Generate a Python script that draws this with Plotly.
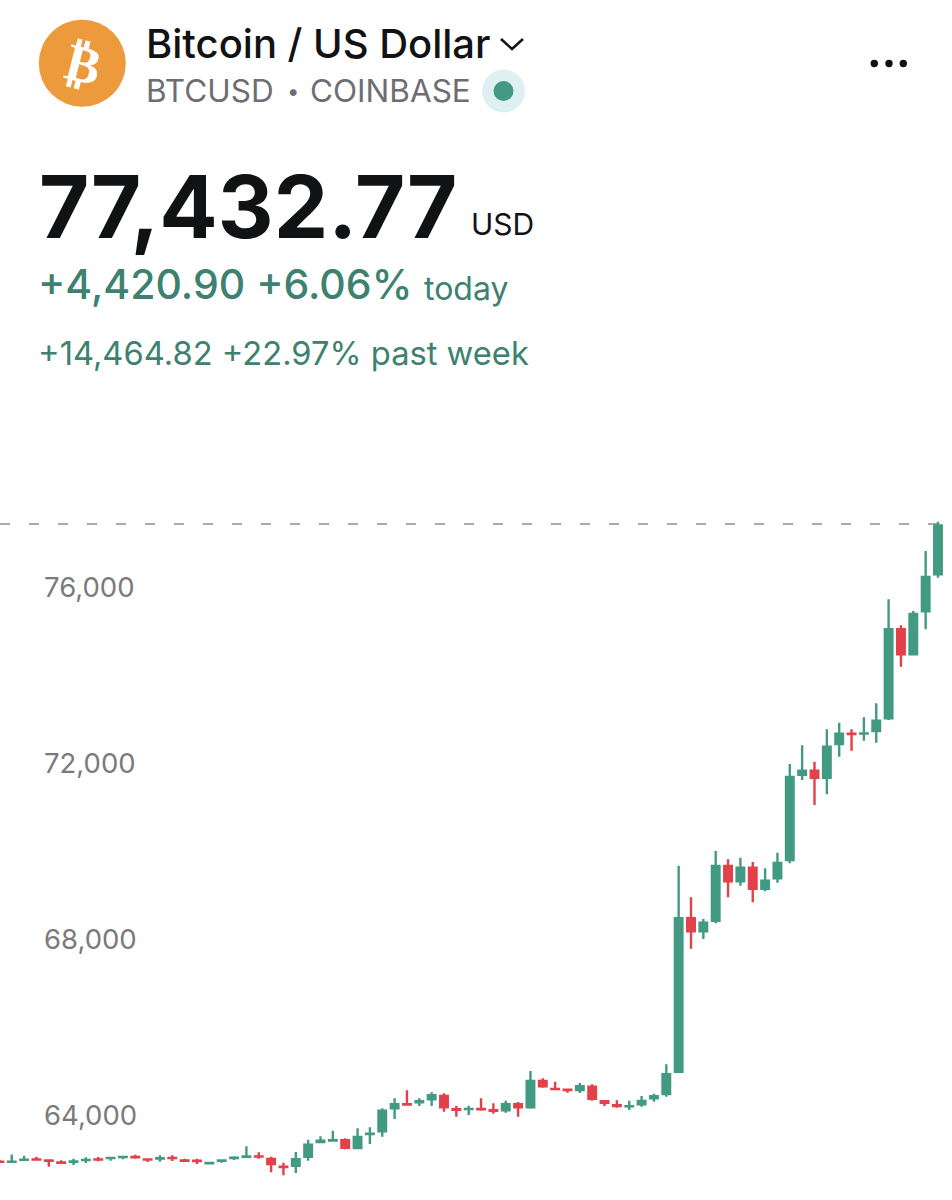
import plotly.graph_objects as go

# Values
opens = [62941, 62935, 62980, 62992, 62966, 62920, 62936, 62974, 62992, 63019, 63042,
         63045, 62992, 63011, 63026, 62966, 62959, 62902, 62959, 63023, 63050, 63060,
         63000, 62825, 62848, 63052, 63386, 63420, 63425, 63250, 63568, 63630, 64152,
         64245, 64289, 64357, 64432, 64130, 64134, 64136, 64107, 64107, 64243, 64175,
         64773, 64594, 64575, 64568, 64643, 64311, 64220, 64195, 64243, 64380, 64477,
         64984, 68470, 68175, 68416, 69659, 69311, 69620, 69143, 69380, 69795, 71734,
         71825, 71666, 72432, 72666, 72667, 72727, 73016, 75039, 74470, 75448, 76289]
highs = [62977, 63102, 63075, 63052, 62993, 62970, 63007, 63039, 63045, 63045, 63075,
         63098, 63007, 63084, 63084, 63007, 63007, 62920, 62977, 63061, 63289, 63152,
         63052, 62916, 63159, 63439, 63516, 63643, 63470, 63698, 63720, 64152, 64380,
         64561, 64380, 64516, 64493, 64205, 64211, 64380, 64266, 64325, 64295, 65000,
         64834, 64757, 64598, 64727, 64698, 64341, 64334, 64325, 64432, 64484, 65152,
         69666, 68948, 68455, 70000, 69811, 69848, 69750, 69607, 69961, 71977, 72402,
         72030, 72766, 72916, 72766, 73039, 73357, 75720, 75130, 75455, 76818, 77484]
lows = [62909, 62925, 62961, 62961, 62825, 62893, 62864, 62909, 62948, 62961, 62993,
        63007, 62932, 62939, 62955, 62932, 62886, 62886, 62916, 62977, 63030, 63007,
        62698, 62630, 62682, 62961, 63357, 63393, 63220, 63220, 63341, 63507, 63909,
        64211, 64205, 64205, 64075, 63961, 64000, 64098, 64030, 64052, 63961, 64143,
        64620, 64568, 64507, 64500, 64325, 64205, 64166, 64114, 64189, 64302, 64416,
        64961, 67780, 68000, 68357, 68948, 69211, 68834, 69084, 69280, 69720, 71614,
        71045, 71289, 72143, 72280, 72507, 72461, 72977, 74189, 74470, 75039, 76211]
closes = [62934, 62940, 62986, 62985, 62959, 62913, 62943, 62981, 62985, 63026, 63049,
          63038, 62985, 63018, 63019, 62959, 62951, 62909, 62966, 63030, 63057, 63053,
          62886, 62818, 62993, 63325, 63416, 63427, 63257, 63500, 63575, 64098, 64243,
          64238, 64311, 64448, 64175, 64120, 64139, 64130, 64098, 64243, 64175, 64773,
          64652, 64587, 64568, 64652, 64370, 64280, 64205, 64200, 64318, 64425, 64925,
          68470, 68175, 68370, 69659, 69311, 69620, 69143, 69325, 69727, 71682, 71825,
          71666, 72370, 72666, 72659, 72672, 72961, 75039, 74470, 75386, 76227, 77400]
last_price = 77432.77
y_ticks = [64000, 68000, 72000, 76000]

GREEN = '#429a82'
RED = '#e4404a'
TEAL_TEXT = '#3d8270'
GREY = '#7a7a7c'
SUB_GREY = '#6e6e72'
BLACK = '#111214'
FONT = 'Inter'
W, H = 952, 1200

# helpers to place header stuff by screen pixel
def px(x):
    return x / W

def py(y):
    return 1 - y / H

def circle(cx, cy, r, color):
    return dict(type='circle', xref='paper', yref='paper', x0=px(cx - r), x1=px(cx + r),
                y0=py(cy + r), y1=py(cy - r), fillcolor=color, line_width=0)

def label(x, y, text, size, color, weight=400, anchor='left', angle=0, family=FONT):
    return dict(xref='paper', yref='paper', x=px(x), y=py(y), text=text, showarrow=False,
                xanchor=anchor, yanchor='middle', textangle=angle, borderpad=0, borderwidth=0,
                font=dict(family=family, size=size, color=color, weight=weight))

fig = go.Figure()
fig.add_trace(go.Candlestick(
    x=list(range(len(opens))), open=opens, high=highs, low=lows, close=closes,
    whiskerwidth=0,
    increasing=dict(line=dict(color=GREEN, width=2.4), fillcolor=GREEN),
    decreasing=dict(line=dict(color=RED, width=2.4), fillcolor=RED),
))

shapes = [
    circle(82.3, 63.3, 43.5, '#ec9a3c'),
    circle(503.5, 91, 21.5, '#dff0f3'),
    circle(503.5, 91, 10, GREEN),
    circle(874.3, 63.5, 3.7, BLACK),
    circle(889, 63.5, 3.7, BLACK),
    circle(903.3, 63.5, 3.7, BLACK),
    # chevron next to the name
    dict(type='path', xref='paper', yref='paper',
         path=f'M {px(501)} {py(39)} L {px(512)} {py(49)} L {px(523)} {py(39)}',
         line=dict(color=BLACK, width=2.5)),
    # last price line
    dict(type='line', xref='paper', yref='y', x0=0, x1=px(945), y0=last_price, y1=last_price,
         line=dict(color='#8a8d94', width=1.5, dash='10px,19px'), layer='below'),
]

annotations = [
    label(83, 64, '₿', 52, 'white', 700, 'center', 14, 'DejaVu Sans'),
    label(146, 43, 'Bitcoin / US Dollar', 40, BLACK, 500),
    label(146, 91, 'BTCUSD', 31.5, SUB_GREY),
    label(293, 91, '•', 22, SUB_GREY, 400, 'center'),
    label(310, 91, 'COINBASE', 31.5, SUB_GREY),
    label(39, 207, '77,432.77', 86.5, BLACK, 700),
    label(471, 224, 'USD', 30, BLACK),
    label(38, 284, '+4,420.90 +6.06%', 41, TEAL_TEXT, 500),
    label(424, 288, 'today', 32, TEAL_TEXT),
    label(38, 353, '+14,464.82 +22.97% past week', 32.7, TEAL_TEXT),
]

fig.update_layout(
    width=W, height=H,
    margin=dict(l=0, r=0, t=0, b=0),
    paper_bgcolor='white', plot_bgcolor='white',
    showlegend=False,
    boxgap=0.39, boxgroupgap=0,
    shapes=shapes,
    annotations=annotations,
    xaxis=dict(visible=False, range=[0.6 / 12.35, 952.6 / 12.35], rangeslider=dict(visible=False)),
    yaxis=dict(range=[64000 - 85 * 4000 / 176, 64000 + 1115 * 4000 / 176],
               tickvals=y_ticks, tickformat=',', ticklabelposition='inside', ticklabelstandoff=41,
               showgrid=False, zeroline=False, showline=False, ticks='',
               tickfont=dict(family=FONT, size=27.5, color=GREY)),
)

# the page has an 8px body margin by default, drop it
fig.write_html("out.html", config={'displayModeBar': False},
               post_script="document.body.style.margin='0';")
